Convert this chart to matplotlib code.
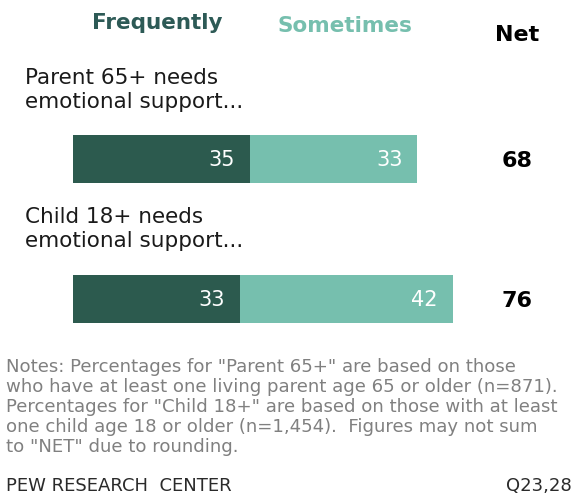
import numpy as np
import matplotlib.pyplot as plt

# data
categories = ['Parent 65+ needs\nemotional support...', 'Child 18+ needs\nemotional support...']
frequently = [35, 33]
sometimes = [33, 42]
net = [68, 76]

dark = '#2c5a4e'
light = '#76bfae'

W, H = 575, 495
fig = plt.figure(figsize=(W / 100, H / 100), dpi=100)

def fx(px):
    return px / W

def fy(py):
    return 1 - py / H

# bar axes: x in percent (100 pts ~ 506 px), y in pixel rows
ax = fig.add_axes([fx(73), 0, 506.5 / W, 1])
ax.set_xlim(0, 100)
ax.set_ylim(H, 0)
ax.axis('off')

bar_y = [159, 299]
ax.barh(bar_y, frequently, height=48, color=dark, edgecolor='none')
ax.barh(bar_y, sometimes, left=frequently, height=48, color=light, edgecolor='none')

pad = 15 / 5.065
for y, f, s in zip(bar_y, frequently, sometimes):
    ax.text(f - pad, y + 1, str(f), color='white', fontsize=15,
            ha='right', va='center')
    ax.text(f + s - pad, y + 1, str(s), color='white', fontsize=15,
            ha='right', va='center')

# net column
for y, n in zip(bar_y, net):
    fig.text(fx(517), fy(y + 2), str(n), fontsize=16, fontweight='bold',
             ha='center', va='center', color='black')

# headers
fig.text(fx(157), fy(23), 'Frequently', fontsize=15.5, fontweight='bold',
         color='#2d5a56', ha='center', va='center')
fig.text(fx(345), fy(26), 'Sometimes', fontsize=15.5, fontweight='bold',
         color=light, ha='center', va='center')
fig.text(fx(517), fy(35), 'Net', fontsize=16, fontweight='bold',
         color='black', ha='center', va='center')

# category labels
for y, c in zip([90, 229], categories):
    fig.text(fx(25), fy(y), c, fontsize=15.5, color='#1a1a1a',
             ha='left', va='center', linespacing=1.3)

notes = ('Notes: Percentages for "Parent 65+" are based on those\n'
         'who have at least one living parent age 65 or older (n=871).\n'
         'Percentages for "Child 18+" are based on those with at least\n'
         'one child age 18 or older (n=1,454).  Figures may not sum\n'
         'to "NET" due to rounding.')
fig.text(fx(6), fy(358), notes, fontsize=13.1, color='#808080',
         ha='left', va='top', linespacing=1.15)

fig.text(fx(6), fy(486), 'PEW RESEARCH  CENTER', fontsize=13, color='#2a2a2a',
         ha='left', va='center')
fig.text(fx(572), fy(486), 'Q23,28', fontsize=13, color='#2a2a2a',
         ha='right', va='center')

plt.savefig('out.png', dpi=100)
